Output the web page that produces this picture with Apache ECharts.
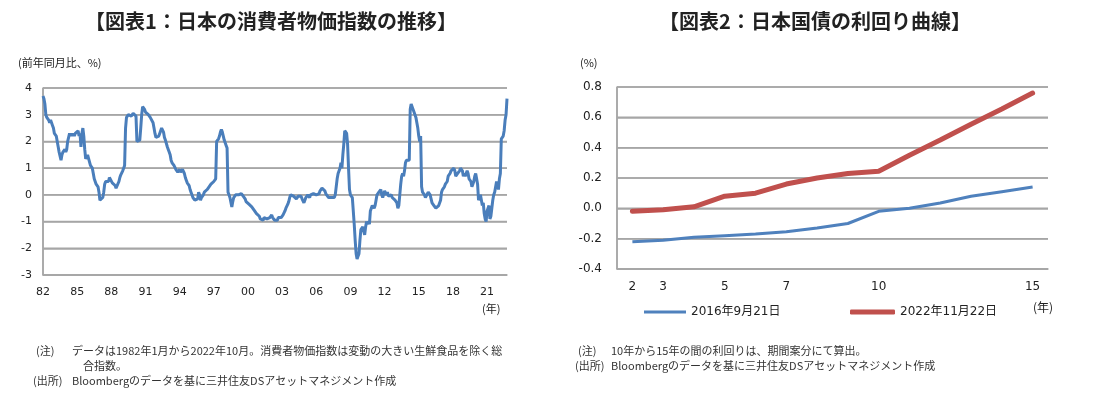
<!DOCTYPE html>
<html>
<head>
<meta charset="utf-8">
<script src="https://cdn.jsdelivr.net/npm/echarts/dist/echarts.min.js"></script>
<style>
  html, body { margin: 0; padding: 0; background: #fff; }
  #chart { width: 1099px; height: 397px; }
</style>
</head>
<body>
<div id="chart"></div>
<script>
// 図表1: コアCPI 前年同月比 (1982年1月～2022年10月, 月次)
const startYear = 1982
const cpiYoY = [
  3.7, 3.6, 3.4, 3.0, 2.9, 2.9, 2.8, 2.7, 2.8, 2.7, 2.6, 2.5, // 1982
  2.3, 2.3, 2.2, 2.0, 1.8, 1.6, 1.6, 1.3, 1.5, 1.6, 1.6, 1.7, // 1983
  1.6, 1.7, 2.0, 2.0, 2.3, 2.2, 2.3, 2.2, 2.3, 2.2, 2.3, 2.3, // 1984
  2.3, 2.4, 2.2, 2.3, 1.8, 2.3, 2.5, 2.2, 1.7, 1.35, 1.4, 1.5, // 1985
  1.5, 1.45, 1.1, 1.1, 1.0, 0.8, 0.6, 0.5, 0.4, 0.4, 0.3, 0.1, // 1986
  -0.2, -0.25, -0.25, -0.1, 0.1, 0.4, 0.5, 0.5, 0.55, 0.5, 0.65, 0.7, // 1987
  0.6, 0.45, 0.4, 0.4, 0.35, 0.25, 0.2, 0.3, 0.5, 0.65, 0.75, 0.8, // 1988
  0.9, 1.0, 1.1, 2.5, 2.9, 2.95, 3.0, 3.0, 3.0, 2.95, 3.0, 3.05, // 1989
  3.0, 3.1, 2.95, 2.0, 1.95, 2.0, 2.05, 2.5, 3.0, 3.3, 3.3, 3.2, // 1990
  3.1, 3.1, 3.05, 3.0, 3.0, 2.9, 2.9, 2.85, 2.7, 2.5, 2.3, 2.15, // 1991
  2.2, 2.1, 2.2, 2.3, 2.4, 2.5, 2.45, 2.35, 2.15, 2.05, 2.0, 1.8, // 1992
  1.7, 1.6, 1.5, 1.3, 1.2, 1.15, 1.1, 1.05, 0.95, 0.9, 0.85, 0.9, // 1993
  0.95, 0.85, 0.9, 0.95, 0.9, 0.8, 0.65, 0.55, 0.45, 0.4, 0.35, 0.2, // 1994
  0.1, 0.0, -0.1, -0.15, -0.2, -0.25, -0.25, -0.15, 0.1, 0.0, -0.2, -0.1, // 1995
  -0.05, 0.0, 0.1, 0.15, 0.1, 0.2, 0.25, 0.3, 0.35, 0.4, 0.35, 0.45, // 1996
  0.5, 0.45, 0.6, 2.0, 2.05, 2.1, 2.2, 2.35, 2.45, 2.35, 2.2, 2.05, // 1997
  1.95, 1.85, 1.75, 0.1, 0.0, -0.1, -0.15, -0.45, -0.25, -0.1, -0.1, 0.0, // 1998
  0.0, -0.05, 0.0, 0.0, 0.0, 0.05, 0.0, -0.05, -0.05, -0.15, -0.25, -0.3, // 1999
  -0.3, -0.35, -0.35, -0.4, -0.45, -0.4, -0.5, -0.6, -0.65, -0.7, -0.75, -0.75, // 2000
  -0.8, -0.9, -0.95, -0.9, -0.95, -0.85, -0.9, -0.8, -0.9, -0.85, -0.95, -0.85, // 2001
  -0.8, -0.75, -0.85, -0.9, -0.95, -0.9, -0.9, -0.95, -0.85, -0.8, -0.9, -0.85, // 2002
  -0.8, -0.75, -0.7, -0.6, -0.5, -0.45, -0.35, -0.25, -0.1, 0.0, 0.05, 0.0, // 2003
  -0.05, -0.1, 0.0, -0.15, -0.1, -0.05, 0.0, -0.1, -0.05, -0.15, -0.2, -0.3, // 2004
  -0.25, -0.1, -0.1, 0.0, -0.05, -0.1, 0.0, 0.05, -0.05, 0.05, 0.0, 0.05, // 2005
  0.0, -0.05, 0.05, 0.05, 0.15, 0.2, 0.25, 0.3, 0.2, 0.15, 0.05, 0.0, // 2006
  0.0, -0.1, -0.1, -0.1, -0.1, -0.1, -0.05, -0.1, 0.0, 0.3, 0.6, 0.8, // 2007
  0.8, 1.0, 1.2, 1.0, 1.5, 1.9, 2.4, 2.4, 2.3, 1.9, 1.0, 0.2, // 2008
  0.0, 0.0, -0.1, -0.1, -1.1, -1.7, -2.2, -2.4, -2.3, -2.2, -1.7, -1.3, // 2009
  -1.3, -1.2, -1.2, -1.5, -1.2, -1.0, -1.1, -1.0, -1.1, -0.6, -0.5, -0.4, // 2010
  -0.45, -0.5, -0.4, -0.2, 0.0, 0.05, 0.1, 0.1, 0.2, 0.0, -0.1, -0.1, // 2011
  0.15, 0.15, 0.0, 0.1, -0.05, -0.1, -0.1, 0.0, -0.1, -0.05, -0.1, -0.2, // 2012
  -0.2, -0.3, -0.5, -0.4, 0.0, 0.4, 0.7, 0.8, 0.7, 0.9, 1.2, 1.3, // 2013
  1.3, 1.3, 1.3, 3.2, 3.4, 3.3, 3.3, 3.1, 3.0, 2.9, 2.7, 2.5, // 2014
  2.2, 2.0, 2.2, 0.3, 0.1, 0.1, 0.0, -0.1, -0.1, -0.1, 0.1, 0.1, // 2015
  0.0, 0.0, -0.3, -0.3, -0.4, -0.4, -0.5, -0.5, -0.5, -0.4, -0.4, -0.2, // 2016
  0.1, 0.2, 0.2, 0.3, 0.4, 0.4, 0.5, 0.7, 0.7, 0.8, 0.9, 0.9, // 2017
  0.9, 1.0, 0.9, 0.7, 0.7, 0.8, 0.8, 0.9, 1.0, 1.0, 0.9, 0.7, // 2018
  0.8, 0.7, 0.8, 0.9, 0.8, 0.6, 0.6, 0.5, 0.3, 0.4, 0.5, 0.7, // 2019
  0.8, 0.6, 0.4, -0.2, -0.2, 0.0, 0.0, -0.4, -0.3, -0.7, -0.9, -1.0, // 2020
  -0.6, -0.5, -0.4, -0.9, -0.8, -0.5, -0.2, 0.0, 0.1, 0.1, 0.5, 0.5, // 2021
  0.2, 0.6, 0.8, 2.1, 2.1, 2.2, 2.4, 2.8, 3.0, 3.6 // 2022
]
const cpiTickLabels = ['82', '85', '88', '91', '94', '97', '00', '03', '06', '09', '12', '15', '18', '21']
const cpiTickEvery = 36 // 3年ごと
const cpiAxisTicks = [-3, -2, -1, 0, 1, 2, 3, 4]

// 図表2: 国債利回り曲線 (年限2～15年, %)
const maturities = ['2', '3', '4', '5', '6', '7', '8', '9', '10', '11', '12', '13', '14', '15']
const maturityTickLabels = ['2', '3', '5', '7', '10', '15']
const yield2016 = [-0.22, -0.21, -0.19, -0.18, -0.17, -0.155, -0.13, -0.10, -0.02, 0.00, 0.035, 0.08, 0.11, 0.14]
const yield2022 = [-0.02, -0.01, 0.01, 0.08, 0.10, 0.16, 0.20, 0.23, 0.245, 0.35, 0.45, 0.555, 0.655, 0.76]
const yieldAxisTicks = [-0.4, -0.2, 0, 0.2, 0.4, 0.6, 0.8]

const months = []
for (let i = 0; i < cpiYoY.length; i++) {
  months.push((startYear + Math.floor(i / 12)) + '/' + (i % 12 + 1))
}
const firstMonth = months[0]
const lastMonth = months[months.length - 1]

const grey = '#a6a6a6'
const numFont = '"DejaVu Sans", Verdana, sans-serif'
const jpFont = '"Noto Sans CJK JP", sans-serif'
const textColor = '#222'

function label (text, x, y, opts) {
  return {
    type: 'text',
    x: x,
    y: y,
    silent: true,
    style: Object.assign({
      text: text,
      fontSize: 11,
      fontFamily: jpFont,
      fill: '#333',
      align: 'left',
      verticalAlign: 'middle'
    }, opts || {})
  }
}

function cpiLabel (value, index) {
  if (index % cpiTickEvery !== 0) return ''
  return cpiTickLabels[index / cpiTickEvery] || ''
}

// 軸線・目盛線を折れ線として引く (v6 で軸側の線が描かれなかったため)
function rule (name, xAxisIndex, yAxisIndex, points) {
  return {
    name: name,
    type: 'line',
    xAxisIndex: xAxisIndex,
    yAxisIndex: yAxisIndex,
    data: points,
    symbol: 'none',
    silent: true,
    clip: false,
    z: 1,
    emphasis: { disabled: true },
    lineStyle: { color: grey, width: 1.5 }
  }
}

const rules = []
cpiAxisTicks.forEach((v) => rules.push(rule('cpi-grid-' + v, 0, 0, [[firstMonth, v], [lastMonth, v]])))
rules.push(rule('cpi-axis', 0, 0, [[firstMonth, cpiAxisTicks[0]], [firstMonth, cpiAxisTicks[cpiAxisTicks.length - 1]]]))
yieldAxisTicks.forEach((v) => rules.push(rule('yield-grid-' + v, 2, 1, [[0, v], [maturities.length, v]])))
rules.push(rule('yield-axis', 2, 1, [[0, yieldAxisTicks[0]], [0, yieldAxisTicks[yieldAxisTicks.length - 1]]]))

const option = {
  animation: false,
  backgroundColor: '#fff',
  grid: [
    { left: 43, top: 88, width: 464, height: 187 },
    { left: 617, top: 87, width: 431, height: 182 }
  ],
  xAxis: [
    {
      gridIndex: 0,
      type: 'category',
      data: months,
      boundaryGap: false,
      axisLine: { onZero: false, lineStyle: { color: grey, width: 1.5 } },
      axisTick: { show: false },
      axisLabel: {
        interval: (i) => i % cpiTickEvery === 0,
        formatter: cpiLabel,
        color: textColor,
        fontSize: 11,
        fontFamily: numFont,
        margin: 12
      },
      splitLine: { show: false }
    },
    {
      gridIndex: 1,
      type: 'category',
      data: maturities,
      boundaryGap: true,
      axisLine: { onZero: false, lineStyle: { color: grey, width: 1.5 } },
      axisTick: { show: false },
      axisLabel: {
        interval: (i, v) => maturityTickLabels.indexOf(v) >= 0,
        color: textColor,
        fontSize: 12,
        fontFamily: numFont,
        margin: 12
      },
      splitLine: { show: false }
    },
    {
      // 右図の枠線用の補助軸 (非表示, 0～年限数)
      gridIndex: 1,
      type: 'value',
      min: 0,
      max: maturities.length,
      show: false
    }
  ],
  yAxis: [
    {
      gridIndex: 0,
      type: 'value',
      min: -3,
      max: 4,
      interval: 1,
      axisLine: { show: true, lineStyle: { color: grey, width: 1.5 } },
      axisTick: { show: false },
      axisLabel: { color: textColor, fontSize: 11, fontFamily: numFont, margin: 11 },
      splitLine: { show: true, lineStyle: { color: grey, width: 1.5 } }
    },
    {
      gridIndex: 1,
      type: 'value',
      min: -0.4,
      max: 0.8,
      interval: 0.2,
      axisLine: { show: true, lineStyle: { color: grey, width: 1.5 } },
      axisTick: { show: false },
      axisLabel: {
        color: textColor,
        fontSize: 12,
        fontFamily: numFont,
        margin: 15,
        formatter: (v) => v.toFixed(1)
      },
      splitLine: { show: true, lineStyle: { color: grey, width: 1.5 } }
    }
  ],
  legend: [
    {
      data: ['2016年9月21日'],
      left: 639,
      top: 301,
      icon: 'rect',
      itemWidth: 42,
      itemHeight: 3,
      textStyle: { fontSize: 12, fontFamily: numFont + ', ' + jpFont, color: textColor }
    },
    {
      data: ['2022年11月22日'],
      left: 845,
      top: 301,
      icon: 'roundRect',
      itemWidth: 45,
      itemHeight: 5,
      textStyle: { fontSize: 12, fontFamily: numFont + ', ' + jpFont, color: textColor }
    }
  ],
  series: rules.concat([
    {
      name: 'CPI',
      type: 'line',
      xAxisIndex: 0,
      yAxisIndex: 0,
      data: cpiYoY,
      symbol: 'none',
      lineStyle: { color: '#4a7ebb', width: 3 },
      z: 5
    },
    {
      name: '2016年9月21日',
      type: 'line',
      xAxisIndex: 1,
      yAxisIndex: 1,
      data: yield2016,
      symbol: 'none',
      itemStyle: { color: '#4f81bd' },
      lineStyle: { color: '#4f81bd', width: 3 },
      z: 5
    },
    {
      name: '2022年11月22日',
      type: 'line',
      xAxisIndex: 1,
      yAxisIndex: 1,
      data: yield2022,
      symbol: 'none',
      itemStyle: { color: '#c0504d' },
      lineStyle: { color: '#c0504d', width: 5, cap: 'round' },
      z: 5
    }
  ]),
  graphic: [
    label('【図表1：日本の消費者物価指数の推移】', 271, 21, { align: 'center', fontSize: 20, fontWeight: 'bold', fill: '#222' }),
    label('【図表2：日本国債の利回り曲線】', 815, 21, { align: 'center', fontSize: 20, fontWeight: 'bold', fill: '#222' }),
    label('(前年同月比、%)', 18, 63, { fontSize: 11, fill: textColor }),
    label('(年)', 482, 309, { fontSize: 11, fill: textColor }),
    label('(%)', 580, 63, { fontSize: 11, fill: textColor }),
    label('(年)', 1033, 307, { fontSize: 12, fill: textColor }),
    label('(注)', 36, 351),
    label('データは1982年1月から2022年10月。消費者物価指数は変動の大きい生鮮食品を除く総', 72, 351),
    label('合指数。', 83, 366),
    label('(出所)', 33, 381),
    label('Bloombergのデータを基に三井住友DSアセットマネジメント作成', 72, 381),
    label('(注)', 578, 351),
    label('10年から15年の間の利回りは、期間案分にて算出。', 611, 351),
    label('(出所)', 575, 366),
    label('Bloombergのデータを基に三井住友DSアセットマネジメント作成', 611, 366)
  ]
}

const chart = echarts.init(document.getElementById('chart'))
chart.setOption(option)
</script>
</body>
</html>
